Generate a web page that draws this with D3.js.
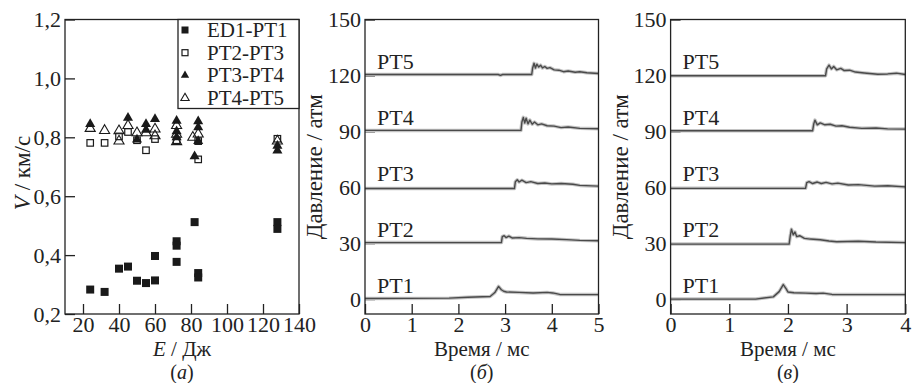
<!DOCTYPE html>
<html>
<head>
<meta charset="utf-8">
<script src="https://cdn.jsdelivr.net/npm/d3@7"></script>
<style>
  body { margin: 0; background: #fff; }
  svg, svg text { font-family: "Liberation Serif", "Times New Roman", "DejaVu Serif", serif; }
  text { fill: #222; }
</style>
</head>
<body>
<svg id="chart" width="912" height="383"></svg>
<script>
// ---- panel (a): velocity vs energy ----
const seriesNames = ['ED1-PT1', 'PT2-PT3', 'PT3-PT4', 'PT4-PT5'];
const eED1 = [24, 32, 40, 45, 50, 55, 60, 60, 72, 72, 72, 82, 84, 84, 128, 128];
const vED1 = [0.283, 0.275, 0.354, 0.361, 0.313, 0.305, 0.397, 0.314, 0.447, 0.432, 0.377, 0.512, 0.339, 0.324, 0.512, 0.489];
const ePT23 = [24, 32, 40, 45, 50, 55, 60, 72, 84, 84, 128];
const vPT23 = [0.781, 0.781, 0.803, 0.818, 0.79, 0.756, 0.794, 0.79, 0.787, 0.725, 0.795];
const ePT34 = [24, 45, 50, 55, 55, 60, 72, 72, 72, 84, 84, 82, 84, 128, 128];
const vPT34 = [0.845, 0.866, 0.792, 0.845, 0.825, 0.862, 0.856, 0.82, 0.80, 0.854, 0.834, 0.735, 0.787, 0.771, 0.755];
const ePT45 = [24, 32, 40, 40, 45, 50, 55, 60, 60, 72, 72, 72, 81, 84, 128];
const vPT45 = [0.83, 0.823, 0.822, 0.787, 0.84, 0.815, 0.815, 0.828, 0.805, 0.84, 0.81, 0.785, 0.8, 0.811, 0.787];
const aXTicks = [20, 40, 60, 80, 100, 120, 140];
const aYTicks = [0.2, 0.4, 0.6, 0.8, 1.0, 1.2];

// ---- panels (б), (в): pressure traces [time ms, pressure atm] ----
const traceNames = ['PT1', 'PT2', 'PT3', 'PT4', 'PT5'];
const traceLevels = [0, 30, 60, 90, 120];
const bPT1 = [[0,0.3],[1.8,0.5],[2.2,1],[2.68,1.4],[2.78,3.5],[2.86,6.8],[2.92,5],[2.97,4.2],[3.03,3.8],[3.3,3.6],[3.6,3.3],[3.9,3.6],[4.02,3.3],[4.17,2.5],[4.5,2.4],[5,2.4]];
const bPT2 = [[0,30.3],[2.92,30.3],[2.94,33.5],[2.98,34],[3.02,33],[3.08,33.8],[3.15,32.8],[3.3,33],[3.46,32.6],[3.7,32.3],[4.0,32.2],[4.32,31.9],[4.6,31.5],[5,31.3]];
const bPT3 = [[0,59.3],[3.2,59.3],[3.22,63],[3.26,64],[3.3,62.8],[3.36,63.8],[3.45,62.5],[3.55,63],[3.7,62],[3.85,62.3],[4.0,61.8],[4.2,62],[4.45,61.6],[4.6,61],[5,60.6]];
const bPT4 = [[0,90.5],[3.34,90.5],[3.36,95],[3.39,97.5],[3.42,94.5],[3.45,97],[3.49,94],[3.53,96],[3.58,93.8],[3.63,95],[3.7,93.5],[3.78,94],[3.9,93],[4.05,92.8],[4.2,92],[4.35,92.3],[4.6,91.6],[5,91.4]];
const bPT5 = [[0,120.5],[2.85,120.5],[2.9,120],[2.95,120.5],[3.57,120.5],[3.59,124],[3.62,126.5],[3.65,124],[3.68,126],[3.72,124.5],[3.76,125.5],[3.8,124],[3.85,124.8],[3.9,123.8],[3.96,124.2],[4.05,123],[4.15,122.8],[4.25,122],[4.35,122.4],[4.5,121.7],[4.6,122],[4.75,121.4],[5,121]];
const cPT1 = [[0,0],[1.45,0],[1.75,1.2],[1.85,4],[1.92,7.8],[1.97,5.5],[2.0,3.8],[2.1,3.4],[2.3,3.2],[2.48,3],[2.6,3.2],[2.75,2.5],[2.93,2.4],[4,2.4]];
const cPT2 = [[0,29.5],[2.02,29.5],[2.04,34],[2.06,37.5],[2.09,34.5],[2.12,36],[2.15,33.5],[2.2,34],[2.28,32.6],[2.38,32.2],[2.55,31.8],[2.7,31.2],[2.83,30.8],[3.2,31],[3.5,30.6],[4,30.3]];
const cPT3 = [[0,59.4],[2.3,59.4],[2.32,62.5],[2.36,63],[2.42,62],[2.5,62.8],[2.57,62],[2.65,62.6],[2.75,61.8],[2.85,62.2],[3.03,61.2],[3.2,61.4],[3.48,60.6],[3.7,60.8],[4,60.2]];
const cPT4 = [[0,90.3],[2.42,90.3],[2.44,94],[2.46,96],[2.5,93.5],[2.55,94.5],[2.63,93.5],[2.72,93.8],[2.82,92.8],[2.92,93],[3.05,92.2],[3.26,91.6],[3.5,91.8],[3.7,91.3],[4,91.2]];
const cPT5 = [[0,119.8],[2.64,119.8],[2.66,123.5],[2.7,125.5],[2.74,123.5],[2.78,124.8],[2.83,123],[2.9,123.8],[2.96,122.6],[3.05,122.8],[3.15,121.8],[3.3,121.3],[3.53,120.6],[3.7,120.8],[3.85,121.2],[4,120.5]];
const pTicks = [0, 30, 60, 90, 120, 150];

const svg = d3.select('#chart');
const ink = '#222';
const serif = '"Liberation Serif", "Times New Roman", "DejaVu Serif", serif';
const plotTop = 19.5, plotBottom = 314;
const fontTick = 22, fontTitle = 21;
const titleY = 355.5, tagY = 378.5;

function frame(g, x0, x1) {
  g.append('rect')
    .attr('x', x0).attr('y', plotTop)
    .attr('width', x1 - x0).attr('height', plotBottom - plotTop)
    .attr('fill', 'none').attr('stroke', ink).attr('stroke-width', 1.3);
}

function axes(g, x, y, xTicks, yTicks, yFmt) {
  g.append('g')
    .attr('transform', `translate(0,${plotBottom})`)
    .call(d3.axisBottom(x).tickValues(xTicks).tickSize(-10).tickPadding(2).tickFormat(d3.format('d')))
    .call(a => a.select('.domain').remove());
  g.append('g')
    .attr('transform', `translate(${x.range()[0]},0)`)
    .call(d3.axisLeft(y).tickValues(yTicks).tickSize(-10).tickPadding(4).tickFormat(yFmt))
    .call(a => a.select('.domain').remove());
  g.selectAll('g').attr('font-family', serif).attr('font-size', fontTick);
  g.selectAll('.tick line').attr('stroke', ink).attr('stroke-width', 1.3);
  g.selectAll('.tick text').attr('fill', ink);
}

function tagLabel(g, cx, tag) {
  const pl = g.append('text').attr('x', cx).attr('y', tagY)
    .attr('text-anchor', 'middle').attr('font-size', 20);
  pl.append('tspan').text('(');
  pl.append('tspan').style('font-style', 'italic').text(tag);
  pl.append('tspan').text(')');
}

// ---------- panel (a) ----------
{
  const g = svg.append('g');
  const x = d3.scaleLinear().domain([10, 140]).range([65, 299]);
  const y = d3.scaleLinear().domain([0.2, 1.2]).range([plotBottom, plotTop]);
  axes(g, x, y, aXTicks, aYTicks, d => d3.format('.1f')(d).replace('.', ','));

  const sq = 8, osq = 6.5;
  const tri = d3.symbol().type(d3.symbolTriangle).size(44);

  const pts = (E, V) => E.map((e, i) => ({ e, v: V[i] }));

  g.append('g').selectAll('rect')
    .data(pts(eED1, vED1)).join('rect')
    .attr('x', d => x(d.e) - sq / 2).attr('y', d => y(d.v) - sq / 2)
    .attr('width', sq).attr('height', sq).attr('fill', '#1a1a1a');

  g.append('g').selectAll('rect')
    .data(pts(ePT23, vPT23)).join('rect')
    .attr('x', d => x(d.e) - osq / 2).attr('y', d => y(d.v) - osq / 2)
    .attr('width', osq).attr('height', osq)
    .attr('fill', 'none').attr('stroke', '#1a1a1a').attr('stroke-width', 1.2);

  g.append('g').selectAll('path')
    .data(pts(ePT34, vPT34)).join('path')
    .attr('transform', d => `translate(${x(d.e)},${y(d.v)})`)
    .attr('d', tri).attr('fill', '#1a1a1a');

  g.append('g').selectAll('path')
    .data(pts(ePT45, vPT45)).join('path')
    .attr('transform', d => `translate(${x(d.e)},${y(d.v)})`)
    .attr('d', tri).attr('fill', 'none').attr('stroke', '#1a1a1a').attr('stroke-width', 1.1);

  frame(g, 65, 299);

  // legend
  const lg = g.append('g');
  lg.append('rect').attr('x', 178).attr('y', plotTop).attr('width', 121).attr('height', 89)
    .attr('fill', '#fff').attr('stroke', ink).attr('stroke-width', 1.3);
  const small = d3.symbol().type(d3.symbolTriangle).size(30);
  seriesNames.forEach((name, i) => {
    const base = 37 + i * 22.7;
    const item = lg.append('g').attr('transform', `translate(185,${base - 7})`);
    if (i === 0) item.append('rect').attr('x', -3.5).attr('y', -3.5).attr('width', 7).attr('height', 7).attr('fill', '#1a1a1a');
    if (i === 1) item.append('rect').attr('x', -3).attr('y', -3).attr('width', 6).attr('height', 6).attr('fill', 'none').attr('stroke', '#1a1a1a').attr('stroke-width', 1.2);
    if (i === 2) item.append('path').attr('d', small).attr('fill', '#1a1a1a');
    if (i === 3) item.append('path').attr('d', small).attr('fill', 'none').attr('stroke', '#1a1a1a').attr('stroke-width', 1.1);
    lg.append('text').attr('x', 207).attr('y', base).attr('font-size', 21).text(name);
  });

  const yl = g.append('text')
    .attr('transform', `translate(30,173) rotate(-90)`)
    .attr('text-anchor', 'middle').attr('font-size', 23);
  yl.append('tspan').style('font-style', 'italic').text('V');
  yl.append('tspan').text(' / км/с');

  const xl = g.append('text').attr('x', 182).attr('y', titleY)
    .attr('text-anchor', 'middle').attr('font-size', fontTitle);
  xl.append('tspan').style('font-style', 'italic').text('E');
  xl.append('tspan').text(' / Дж');

  tagLabel(g, 182, 'а');
}

// ---------- panels (б), (в) ----------
function tracePanel(x0, x1, tMax, traces, tag) {
  const g = svg.append('g');
  const x = d3.scaleLinear().domain([0, tMax]).range([x0, x1]);
  const y = d3.scaleLinear().domain([-8, 150]).range([plotBottom, plotTop]);
  axes(g, x, y, d3.range(0, tMax + 1), pTicks, d3.format('d'));

  const line = d3.line().x(d => x(d[0])).y(d => y(d[1]));
  traces.forEach((tr, i) => {
    g.append('path').attr('d', line(tr)).attr('fill', 'none')
      .attr('stroke', '#c4c4c4').attr('stroke-width', 3.5).attr('stroke-linejoin', 'round');
    g.append('path').attr('d', line(tr)).attr('fill', 'none')
      .attr('stroke', '#4a4a4a').attr('stroke-width', 1.4).attr('stroke-linejoin', 'round');
    g.append('text')
      .attr('x', x0 + 12).attr('y', y(traceLevels[i]) - 6)
      .attr('font-size', 22).text(traceNames[i]);
  });

  frame(g, x0, x1);

  const cx = (x0 + x1) / 2;
  g.append('text')
    .attr('transform', `translate(${x0 - 43},${(plotTop + plotBottom) / 2}) rotate(-90)`)
    .attr('text-anchor', 'middle').attr('font-size', 23)
    .text('Давление / атм');
  g.append('text').attr('x', cx).attr('y', titleY)
    .attr('text-anchor', 'middle').attr('font-size', fontTitle)
    .text('Время / мс');
  tagLabel(g, cx, tag);
}

tracePanel(365, 598.5, 5, [bPT1, bPT2, bPT3, bPT4, bPT5], 'б');
tracePanel(670.6, 905.3, 4, [cPT1, cPT2, cPT3, cPT4, cPT5], 'в');
</script>
</body>
</html>
